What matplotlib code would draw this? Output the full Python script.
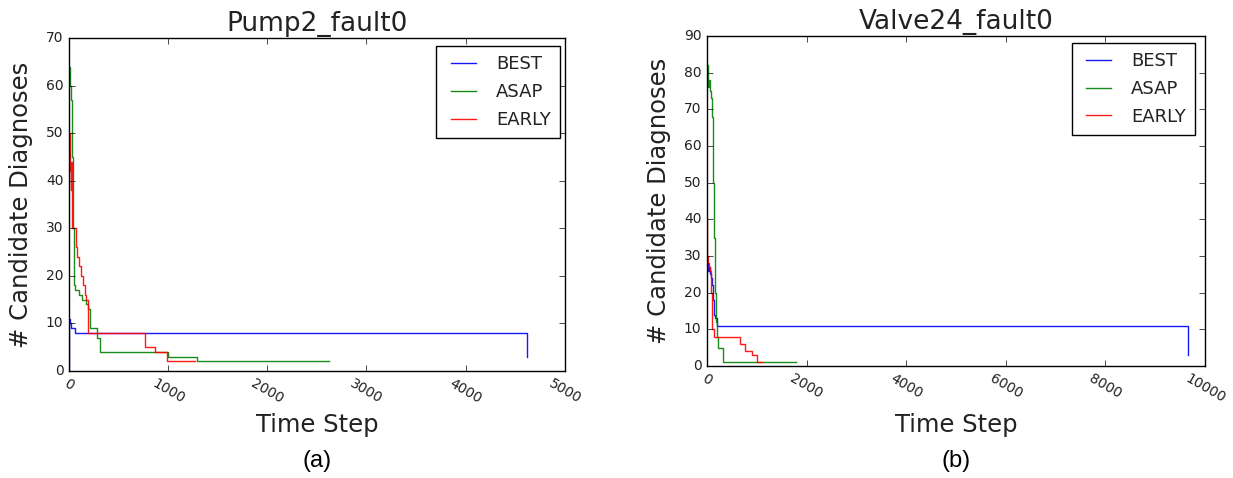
import matplotlib
matplotlib.use("Agg")
import matplotlib.pyplot as plt

# ---- data: panel (a) Pump2_fault0 ----
a_best_t = [0, 2, 10, 20, 55, 4620, 4621]
a_best_v = [0, 11, 10, 9, 8, 8, 3]
a_asap_t = [0, 10, 20, 27, 35, 40, 50, 60, 100, 128, 170, 190, 212, 280, 313, 1000, 1290, 2620]
a_asap_v = [64, 60, 57, 45, 35, 30, 18, 17, 16, 15, 14, 13, 9, 7, 4, 3, 2, 2]
a_early_t = [0, 5, 10, 15, 20, 25, 30, 60, 70, 85, 100, 120, 140, 160, 175, 195, 768, 869, 990, 1273]
a_early_v = [50, 46, 42, 38, 44, 35, 30, 30, 26, 24, 22, 20, 18, 16, 15, 8, 5, 4, 2, 2]

# ---- data: panel (b) Valve24_fault0 ----
b_best_t = [0, 20, 40, 60, 80, 100, 120, 150, 170, 200, 9660, 9661]
b_best_v = [28, 26, 27, 25, 24, 22, 18, 14, 13, 11, 11, 3]
b_asap_t = [0, 20, 40, 60, 80, 100, 120, 140, 160, 180, 200, 230, 330, 1790]
b_asap_v = [82, 76, 78, 75, 73, 68, 50, 35, 20, 12, 8, 5, 1, 1]
b_early_t = [0, 5, 20, 40, 60, 80, 110, 133, 667, 767, 900, 1000, 1100]
b_early_v = [40, 30, 28, 27, 26, 20, 10, 8, 6, 4, 3, 1, 1]

series_labels = ["BEST", "ASAP", "EARLY"]
colors = ["b", "g", "r"]

plt.style.use("classic")
plt.rcParams["font.family"] = ["DejaVu Sans"]
TXT = "#222222"

fig = plt.figure(figsize=(12.33, 4.78), dpi=100, facecolor="white")

panels = [
    dict(rect=[0.056, 0.224, 0.402, 0.6965], title="Pump2_fault0", caption="(a)",
         data=[(a_best_t, a_best_v), (a_asap_t, a_asap_v), (a_early_t, a_early_v)],
         xlim=(0, 5000), ylim=(0, 70), xticks=[0, 1000, 2000, 3000, 4000, 5000],
         yticks=list(range(0, 71, 10)), leg_anchor=(0.99, 0.976)),
    dict(rect=[0.5734, 0.2343, 0.4039, 0.6904], title="Valve24_fault0", caption="(b)",
         data=[(b_best_t, b_best_v), (b_asap_t, b_asap_v), (b_early_t, b_early_v)],
         xlim=(0, 10000), ylim=(0, 90), xticks=[0, 2000, 4000, 6000, 8000, 10000],
         yticks=list(range(0, 91, 10)), leg_anchor=(0.98, 0.979)),
]

for p in panels:
    ax = fig.add_axes(p["rect"])
    ax.set_facecolor("white")
    for (t, v), lab, c in zip(p["data"], series_labels, colors):
        ax.plot(t, v, drawstyle="steps-post", color=c, lw=1.0, label=lab, alpha=0.9)
    ax.set_xlim(*p["xlim"])
    ax.set_ylim(*p["ylim"])
    ax.set_xticks(p["xticks"])
    ax.set_yticks(p["yticks"])
    ax.tick_params(axis="both", labelsize=10, labelcolor=TXT)
    for lbl in ax.get_xticklabels():
        lbl.set_rotation(-30)
        lbl.set_ha("center")
    ax.set_title(p["title"], fontsize=19, color=TXT)
    ax.set_xlabel("Time Step", fontsize=17.5, color=TXT)
    ax.set_ylabel("# Candidate Diagnoses", fontsize=17.5, color=TXT, labelpad=9)
    leg = ax.legend(loc="upper right", bbox_to_anchor=p["leg_anchor"], fontsize=13,
                    labelspacing=0.55, handlelength=2.0, handletextpad=0.8,
                    borderpad=0.5, borderaxespad=0.0)
    leg.get_frame().set_edgecolor("black")
    for txt in leg.get_texts():
        txt.set_color(TXT)
    cx = p["rect"][0] + p["rect"][2] / 2
    fig.text(cx, 0.035, p["caption"], ha="center", va="center",
             fontsize=17, family="Liberation Sans", color="black")

fig.savefig("out.png", dpi=100, facecolor="white")
